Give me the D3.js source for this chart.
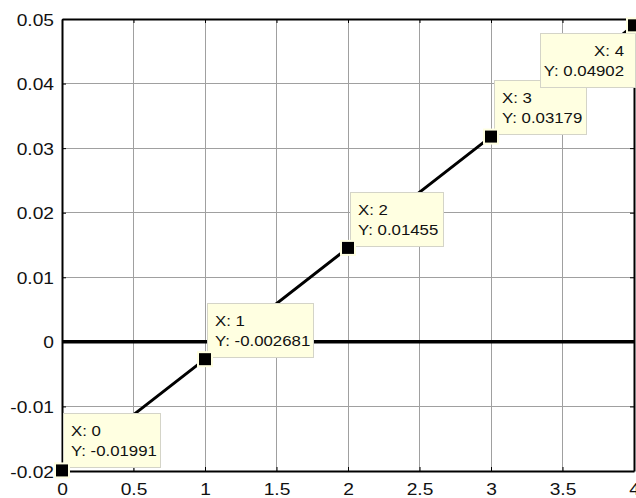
<!DOCTYPE html>
<html>
<head>
<meta charset="utf-8">
<script src="https://cdn.jsdelivr.net/npm/d3@7"></script>
<style>
  html, body { margin: 0; padding: 0; background: #fff; overflow: hidden; }
  svg { display: block; font-family: "Liberation Sans", Arial, sans-serif; }
</style>
</head>
<body>
<div id="chart"></div>
<script>
// data
const xValues = [0, 1, 2, 3, 4];
const yValues = [-0.01991, -0.002681, 0.01455, 0.03179, 0.04902];
const xTicks = [0, 0.5, 1, 1.5, 2, 2.5, 3, 3.5, 4];
const yTicks = [-0.02, -0.01, 0, 0.01, 0.02, 0.03, 0.04, 0.05];
const tipLabels = ['X: 0', 'X: 1', 'X: 2', 'X: 3', 'X: 4'];
const tipValues = ['Y: -0.01991', 'Y: -0.002681', 'Y: 0.01455', 'Y: 0.03179', 'Y: 0.04902'];

const width = 636, height = 498;
const margin = { top: 19, right: 2, bottom: 27, left: 62 };
const innerW = width - margin.left - margin.right;
const innerH = height - margin.top - margin.bottom;
const stretch = 1.2; // the original text is rendered a bit wider than Arial
const tickFormat = d => String(+d.toFixed(4)); // plain hyphen minus, like the original

const svg = d3.select('#chart').append('svg')
  .attr('width', width)
  .attr('height', height);

const g = svg.append('g')
  .attr('transform', `translate(${margin.left},${margin.top})`);

const x = d3.scaleLinear().domain([0, 4]).range([0, innerW]);
const y = d3.scaleLinear().domain([-0.02, 0.05]).range([innerH, 0]);

// grid
g.append('g').selectAll('line').data(xTicks).join('line')
  .attr('x1', d => x(d)).attr('x2', d => x(d))
  .attr('y1', 0).attr('y2', innerH)
  .attr('stroke', '#a0a0a0').attr('stroke-width', 1)
  .attr('shape-rendering', 'crispEdges');
g.append('g').selectAll('line').data(yTicks).join('line')
  .attr('x1', 0).attr('x2', innerW)
  .attr('y1', d => y(d)).attr('y2', d => y(d))
  .attr('stroke', '#a0a0a0').attr('stroke-width', 1)
  .attr('shape-rendering', 'crispEdges');

// axes, ticks pointing inside
const xAxis = g.append('g').attr('transform', `translate(0,${innerH})`)
  .call(d3.axisBottom(x).tickValues(xTicks).tickSizeInner(-4).tickSizeOuter(0).tickFormat(tickFormat));
const xAxisTop = g.append('g')
  .call(d3.axisTop(x).tickValues(xTicks).tickSizeInner(-4).tickSizeOuter(0).tickFormat(''));
const yAxis = g.append('g')
  .call(d3.axisLeft(y).tickValues(yTicks).tickSizeInner(-4).tickSizeOuter(0).tickFormat(tickFormat));
const yAxisRight = g.append('g').attr('transform', `translate(${innerW},0)`)
  .call(d3.axisRight(y).tickValues(yTicks).tickSizeInner(-4).tickSizeOuter(0).tickFormat(''));

[xAxis, xAxisTop, yAxis, yAxisRight].forEach(a => {
  a.select('.domain').attr('stroke', '#000').attr('stroke-width', 2);
  a.selectAll('.tick line').attr('stroke', '#000');
  a.selectAll('.tick text').attr('fill', '#111').attr('font-size', 16)
    .attr('font-family', '"Liberation Sans", Arial, sans-serif');
});
xAxis.selectAll('.tick text')
  .attr('x', 0).attr('y', 0).attr('dy', null)
  .attr('transform', `translate(0,24) scale(${stretch},1)`);
yAxis.selectAll('.tick text')
  .attr('x', 0).attr('dy', null)
  .attr('transform', `translate(-8,6) scale(${stretch},1)`);

// zero line
g.append('line')
  .attr('x1', x(0)).attr('x2', x(4))
  .attr('y1', y(0)).attr('y2', y(0))
  .attr('stroke', '#000').attr('stroke-width', 3.5);

// data line
const points = xValues.map((d, i) => ({ xValue: d, yValue: yValues[i] }));
g.append('path').datum(points)
  .attr('fill', 'none').attr('stroke', '#000').attr('stroke-width', 3)
  .attr('d', d3.line().x(d => x(d.xValue)).y(d => y(d.yValue)));

// data tips
const tipOffsets = [
  { dx: 1, dy: -57, w: 97, anchor: 'start' },
  { dx: 2, dy: -56, w: 106, anchor: 'start' },
  { dx: 2, dy: -56, w: 93, anchor: 'start' },
  { dx: 3, dy: -57, w: 92, anchor: 'start' },
  { dx: -94, dy: 8, w: 95, anchor: 'end' }
];
const tipX = (d, i) => x(d.xValue) + tipOffsets[i].dx;
const tipY = (d, i) => y(d.yValue) + tipOffsets[i].dy;
const textX = (d, i) => tipOffsets[i].anchor === 'end'
  ? tipX(d, i) + tipOffsets[i].w - 11
  : tipX(d, i) + 8;

const tips = g.append('g').selectAll('g').data(points).join('g');
tips.append('rect')
  .attr('x', (d, i) => Math.round(tipX(d, i)) + 0.5)
  .attr('y', (d, i) => Math.round(tipY(d, i)) + 0.5)
  .attr('width', (d, i) => tipOffsets[i].w)
  .attr('height', 54)
  .attr('fill', '#ffffe1').attr('stroke', '#d4d4c8').attr('stroke-width', 1);
tips.append('text')
  .attr('transform', (d, i) => `translate(${textX(d, i)},${tipY(d, i) + 23}) scale(${stretch},1)`)
  .attr('text-anchor', (d, i) => tipOffsets[i].anchor)
  .attr('font-size', 14).attr('fill', '#111')
  .text((d, i) => tipLabels[i]);
tips.append('text')
  .attr('transform', (d, i) => `translate(${textX(d, i)},${tipY(d, i) + 43}) scale(${stretch},1)`)
  .attr('text-anchor', (d, i) => tipOffsets[i].anchor)
  .attr('font-size', 14).attr('fill', '#111')
  .text((d, i) => tipValues[i]);

// markers
g.append('g').selectAll('rect').data(points).join('rect')
  .attr('x', d => x(d.xValue) - 7)
  .attr('y', d => y(d.yValue) - 7)
  .attr('width', 14).attr('height', 14)
  .attr('fill', '#000').attr('stroke', '#ffffe1').attr('stroke-width', 2);
</script>
</body>
</html>
